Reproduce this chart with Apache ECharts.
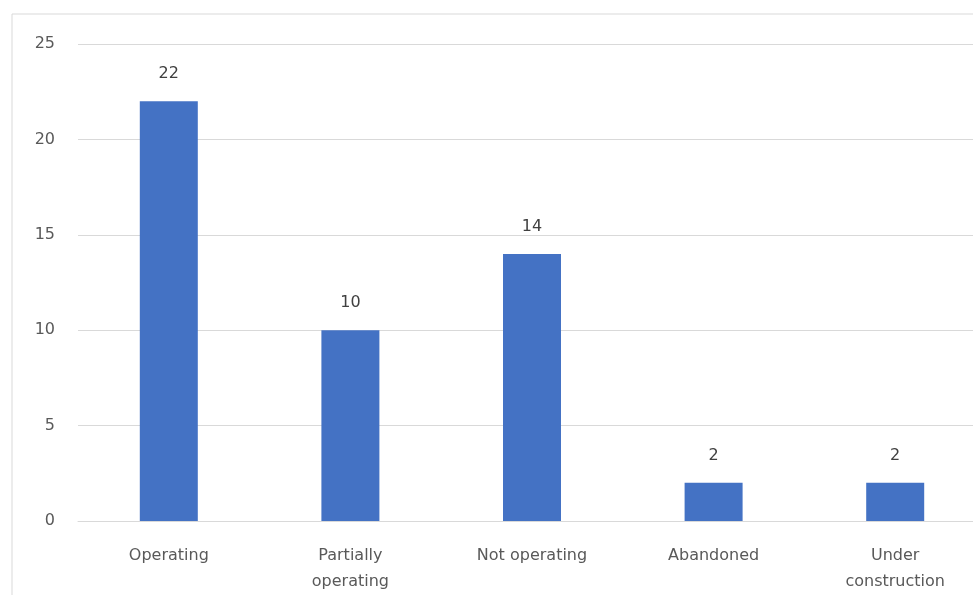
<!DOCTYPE html>
<html>
<head>
<meta charset="utf-8">
<script src="https://cdn.jsdelivr.net/npm/echarts@6/dist/echarts.min.js"></script>
<style>
  html, body { margin: 0; padding: 0; background: #fff; }
  #main { width: 973px; height: 595px; }
</style>
</head>
<body>
<div id="main"></div>
<script>
const categories = ['Operating', 'Partially\noperating', 'Not operating', 'Abandoned', 'Under\nconstruction'];
const counts = [22, 10, 14, 2, 2];
const yTicks = [0, 5, 10, 15, 20, 25];

const chart = echarts.init(document.getElementById('main'));

// chart options
const option = {
  animation: false,
  textStyle: { fontFamily: '"DejaVu Sans", sans-serif' },
  graphic: [{
    type: 'rect',
    shape: { x: 12, y: 14, width: 980, height: 600 },
    style: { fill: 'none', stroke: '#d9d9d9', lineWidth: 1 },
    silent: true
  }],
  // plot runs a little past the right edge of the picture
  grid: { left: 78, width: 908, top: 44, bottom: 74, outerBoundsMode: 'none' },
  xAxis: {
    type: 'category',
    data: categories,
    axisLine: { lineStyle: { color: '#d9d9d9' } },
    axisTick: { show: false },
    axisLabel: { color: '#595959', fontSize: 16, margin: 22, lineHeight: 26 }
  },
  yAxis: {
    type: 'value',
    min: yTicks[0],
    max: yTicks[yTicks.length - 1],
    interval: 5,
    axisLine: { show: false },
    axisTick: { show: false },
    splitLine: { lineStyle: { color: '#d9d9d9' } },
    axisLabel: { color: '#595959', fontSize: 16, margin: 23 }
  },
  series: [{
    type: 'bar',
    data: counts,
    barWidth: 58,
    itemStyle: { color: '#4472c4' },
    label: { show: true, position: 'top', color: '#404040', fontSize: 16, distance: 19 }
  }]
};

chart.setOption(option);
</script>
</body>
</html>
